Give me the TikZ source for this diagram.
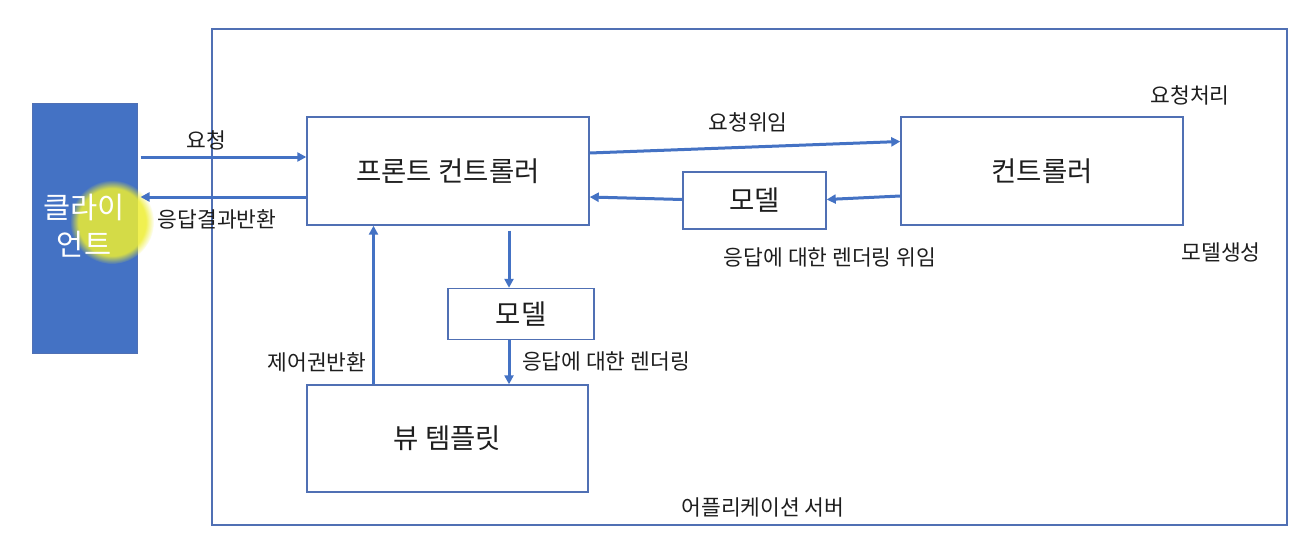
\documentclass[tikz,border=0pt]{standalone}
\usepackage{fontspec}
\setmainfont{Noto Sans CJK KR}
\usetikzlibrary{arrows.meta,fadings}
\definecolor{mainblue}{RGB}{68,114,196}
\definecolor{boxblue}{RGB}{80,112,180}
\definecolor{txt}{RGB}{30,30,30}
\definecolor{glow}{RGB}{238,238,50}
\tikzset{
  box/.style={draw=boxblue, line width=1.4pt, fill=white, inner sep=0pt, text=txt, font=\fontsize{27.5}{32}\selectfont},
  arr/.style={draw=mainblue, line width=3pt, -{Triangle[length=9pt,width=9pt]}},
  lbl/.style={text=txt, inner sep=0pt, font=\fontsize{21.5}{25}\selectfont},
}
\begin{document}
\begin{tikzpicture}[x=1pt,y=-1pt]
\useasboundingbox (0,0) rectangle (1304,538);
\fill[white] (0,0) rectangle (1304,538);
% application server
\node[draw=boxblue, line width=1.4pt, minimum width=1075pt, minimum height=496pt, inner sep=0pt] (server) at (749.5,277) {};
% client
\node[fill=mainblue, draw=boxblue, line width=1pt, minimum width=105pt, minimum height=250pt, inner sep=0pt] (client) at (84.5,228) {};
\fill[glow, opacity=0.85, path fading=circle with fuzzy edge 20 percent] (112,222) circle (42pt);
\node[text=white, align=center, inner sep=0pt, font=\fontsize{29.5}{37}\selectfont] (clientlbl) at (84,226) {클라이\\언트};
% boxes
\node[box, minimum width=282pt, minimum height=108pt] (fc) at (448,171) {프론트 컨트롤러};
\node[box, minimum width=282pt, minimum height=108pt] (ctrl) at (1042,171) {컨트롤러};
\node[box, minimum width=143pt, minimum height=57pt] (m1) at (754.5,200.5) {모델};
\node[box, minimum width=146pt, minimum height=51pt] (m2) at (521,314) {모델};
\node[box, minimum width=281pt, minimum height=107pt] (view) at (447.5,438.5) {뷰 템플릿};
% arrows
\draw[arr] ([xshift=3pt,yshift=71pt]client.east) -- ([yshift=14pt]fc.west);
\draw[arr] ([yshift=-26pt]fc.west) -- ([xshift=3pt,yshift=31pt]client.east);
\draw[arr] ([yshift=18pt]fc.east) -- ([yshift=29.5pt]ctrl.west);
\draw[arr] ([yshift=-25pt]ctrl.west) -- ([yshift=1pt]m1.east);
\draw[arr] ([yshift=1pt]m1.west) -- ([yshift=-26pt]fc.east);
\draw[arr] ([xshift=61pt,yshift=-5pt]fc.south) -- ([xshift=-12pt]m2.north);
\draw[arr] ([xshift=-12pt]m2.south) -- ([xshift=61.5pt]view.north);
\draw[arr] ([xshift=-74pt]view.north) -- ([xshift=-74.5pt]fc.south);
% labels
\node[lbl] (l1) at (206,140) {요청};
\node[lbl] (l2) at (217,219) {응답결과반환};
\node[lbl] (l3) at (748,122) {요청위임};
\node[lbl] (l4) at (1190,95) {요청처리};
\node[lbl] (l5) at (1221,252) {모델생성};
\node[lbl] (l6) at (830,257) {응답에 대한 렌더링 위임};
\node[lbl] (l7) at (317,362) {제어권반환};
\node[lbl] (l8) at (606,361) {응답에 대한 렌더링};
\node[lbl] (l9) at (763,507) {어플리케이션 서버};
\end{tikzpicture}
\end{document}
